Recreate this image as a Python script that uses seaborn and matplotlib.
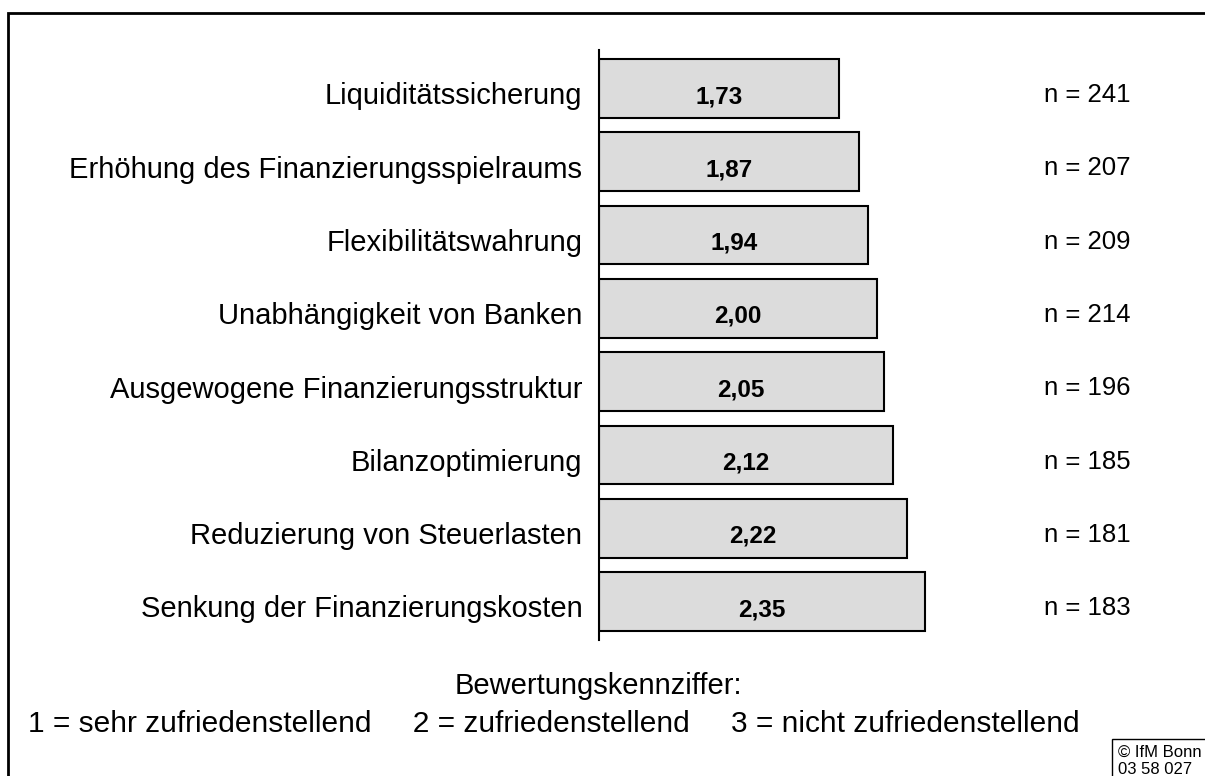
import pandas as pd
import matplotlib.pyplot as plt
import matplotlib.transforms as mtransforms
import seaborn as sns
from matplotlib.patches import Rectangle

# data
categories = ['Liquiditätssicherung', 'Erhöhung des Finanzierungsspielraums',
              'Flexibilitätswahrung', 'Unabhängigkeit von Banken',
              'Ausgewogene Finanzierungsstruktur', 'Bilanzoptimierung',
              'Reduzierung von Steuerlasten', 'Senkung der Finanzierungskosten']
scores = [1.73, 1.87, 1.94, 2.00, 2.05, 2.12, 2.22, 2.35]
n_values = [241, 207, 209, 214, 196, 185, 181, 183]

df = pd.DataFrame({'Kategorie': categories, 'Wert': scores, 'n': n_values})

sns.set_theme(style='white')
plt.rcParams['font.family'] = ['Liberation Sans', 'DejaVu Sans']

fig = plt.figure(figsize=(12.05, 7.76), dpi=100)
ax = fig.add_axes([0.4971, 0.1753, 0.4573, 0.7603])

sns.barplot(data=df, x='Wert', y='Kategorie', orient='h', color='#dcdcdc',
            saturation=1, edgecolor='black', linewidth=1.5, width=0.8, ax=ax)

ax.set_xlim(0, 3.97)
ax.set_ylim(7.525, -0.525)
ax.set_xlabel('')
ax.set_ylabel('')
ax.set_xticks([])
ax.tick_params(axis='y', length=0, pad=12, labelsize=21, labelcolor='black')
# category labels sit a little below the bar centres
shift = mtransforms.ScaledTranslation(0, -5 / 100, fig.dpi_scale_trans)
for lab in ax.get_yticklabels():
    lab.set_transform(lab.get_transform() + shift)
for s in ['top', 'right', 'bottom']:
    ax.spines[s].set_visible(False)
ax.spines['left'].set_color('black')
ax.spines['left'].set_linewidth(1.5)

for i, (v, n) in enumerate(zip(scores, n_values)):
    ax.text(v / 2, i + 0.11, f'{v:.2f}'.replace('.', ','), ha='center', va='center',
            fontsize=17.5, fontweight='bold', color='black')
    ax.text(3.52, i + 0.09, f'n = {n}', ha='center', va='center',
            fontsize=18.5, color='black')

fig.text(0.4965, 1 - 686 / 776, 'Bewertungskennziffer:', ha='center', va='center',
         fontsize=21, color='black')
fig.text(0.4593, 1 - 724 / 776,
         '1 = sehr zufriedenstellend     2 = zufriedenstellend     3 = nicht zufriedenstellend',
         ha='center', va='center', fontsize=21.5, color='black')

# outer frame
fig.patches.append(Rectangle((8 / 1205, -0.05), 1.1, 1 - 13 / 776 + 0.05,
                             transform=fig.transFigure, fill=False,
                             edgecolor='black', linewidth=2))
# copyright box
fig.patches.append(Rectangle((1112 / 1205, -0.05), 0.2, 1 - 739 / 776 + 0.05,
                             transform=fig.transFigure, fill=False,
                             edgecolor='black', linewidth=1))
fig.text(1118 / 1205, 1 - 752 / 776, '© IfM Bonn', ha='left', va='center',
         fontsize=12, color='black')
fig.text(1118 / 1205, 1 - 769 / 776, '03 58 027', ha='left', va='center',
         fontsize=12, color='black')

fig.savefig('out.png', dpi=100, facecolor='white')
